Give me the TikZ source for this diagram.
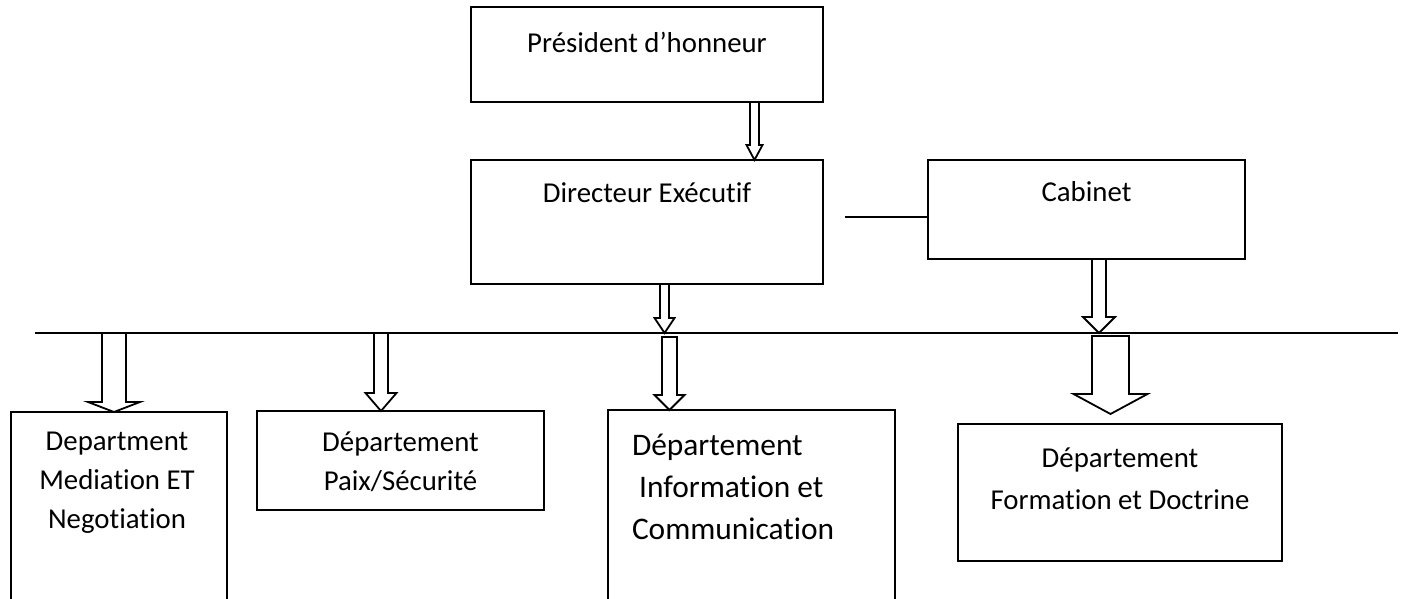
\documentclass[tikz,border=0pt]{standalone}
\usepackage{fontspec}
\setmainfont[Ligatures=NoCommon]{Carlito}
\usetikzlibrary{positioning,calc}

% hollow block arrow: from, to, shaft half width, head half width, head length
\newcommand{\blockarrow}[5]{%
  \draw[barrow] let \p1=(#1), \p2=(#2) in
    (\x1-#3,\y1) -- (\x1-#3,\y2+#5) -- (\x1-#4,\y2+#5) -- (\x1,\y2)
    -- (\x1+#4,\y2+#5) -- (\x1+#3,\y2+#5) -- (\x1+#3,\y1) -- cycle;}

\begin{document}
\begin{tikzpicture}[x=0.5pt, y=0.5pt, every node/.style={inner sep=0,outer sep=0, font=\fontsize{14.4}{19.5}\selectfont}, align=center,
    box/.style={draw, line width=0.9pt},
    barrow/.style={draw, fill=white, line width=0.9pt, line join=miter}]
		\useasboundingbox (0,0) rectangle (1405,-599);

		%Nodes
		\node[box, minimum width=176pt, minimum height=47.5pt] (11) at (647,-54.5) {};
		\node (11t) [below=17.5pt of 11.north, anchor=center] {Président d’honneur};
		\node[box, minimum width=176pt, minimum height=62pt] (21) at (647,-222) {};
		\node (21t) [below=16.5pt of 21.north, anchor=center] {Directeur Exécutif};
		\node[box, minimum width=158.5pt, minimum height=49.5pt] (22) at (1086.5,-209.5) {};
		\node (22t) [below=16pt of 22.north, anchor=center] {Cabinet};
		\node[box, minimum width=108pt, minimum height=96pt] (31) at (119,-508) {};
		\node (31t) [below=35.5pt of 31.north, anchor=center, xshift=-1] {Department\\Mediation ET\\Negotiation};
		\node[box, minimum width=143.5pt, minimum height=49.5pt] (32) at (400.5,-460.5) {};
		\node (32t) [below=25.5pt of 32.north, anchor=center] {Département\\Paix/Sécurité};
		\node[box, minimum width=143.5pt, minimum height=97pt] (33) at (751.5,-507) {};
		\node (33t) [below right=38.5pt and 12pt of 33.north west, anchor=west, align=left, font=\fontsize{15.7}{21}\selectfont] {Département\\\ Information et\\Communication};
		\node[box, minimum width=162pt, minimum height=68.5pt] (34) at (1120,-492.5) {};
		\node (34t) [below=27.25pt of 34.north, anchor=center, font=\fontsize{14.4}{21}\selectfont] {Département\\Formation et Doctrine};

		%Coordinates
		\coordinate (l1) at (35,-333);
		\coordinate (l2) at (1398,-333);
		\coordinate (c1) at (845,-217);
		\coordinate (a1) at (754.5,0);
		\coordinate (a2) at (664.5,0);
		\coordinate (a3) at (1099,0);
		\coordinate (a4) at (114,0);
		\coordinate (a5) at (381,0);
		\coordinate (a6) at (669.5,-337);
		\coordinate (a7) at (1110.5,-336);
		\coordinate (t7) at (1110.5,-414);

		%Lines
		\draw[line width=0.9pt] (l1) -- (l2);
		\draw[line width=0.9pt] (c1) -- (c1 -| 22.west);
		\blockarrow{a1 |- 11.south}{a1 |- 21.north}{2.25pt}{4pt}{7.5pt}
		\blockarrow{a2 |- 21.south}{a2 |- l1}{2.25pt}{5pt}{7.5pt}
		\blockarrow{a3 |- 22.south}{a3 |- l1}{3.5pt}{8pt}{8pt}
		\blockarrow{a4 |- l1}{a4 |- 31.north}{6pt}{13pt}{5pt}
		\blockarrow{a5 |- l1}{a5 |- 32.north}{3.5pt}{7.75pt}{9pt}
		\blockarrow{a6}{a6 |- 33.north}{3.75pt}{7.5pt}{7.5pt}
		\blockarrow{a7}{t7}{9.25pt}{18.5pt}{10pt}
	\end{tikzpicture}
\end{document}
